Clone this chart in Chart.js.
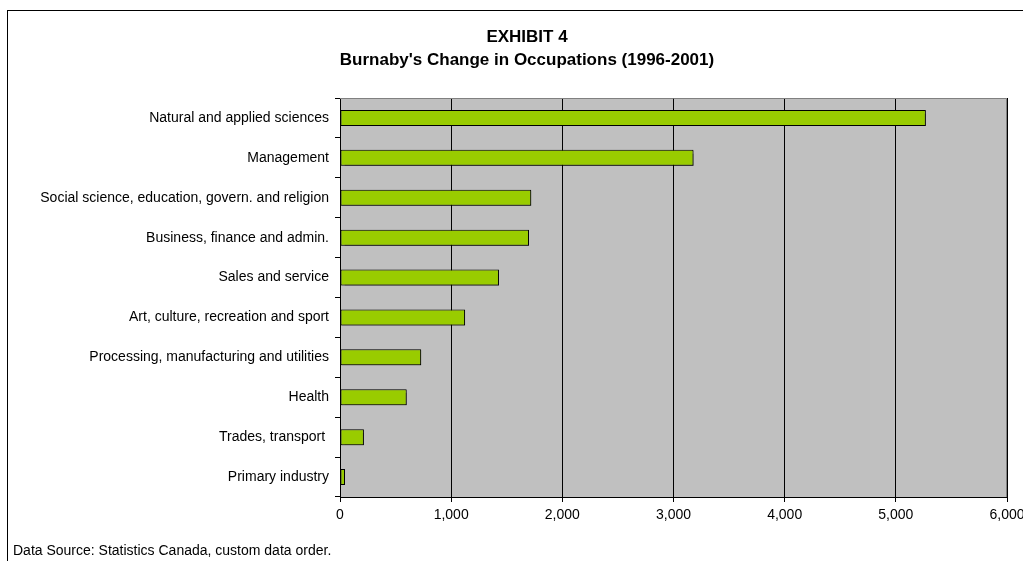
<!DOCTYPE html>
<html><head><meta charset="utf-8">
<script src="https://cdn.jsdelivr.net/npm/chart.js@4"></script>
<style>html,body{margin:0;padding:0;background:#fff;}#wrap{width:1023px;height:561px;position:relative;}</style>
</head><body><div id="wrap"><canvas id="c" width="1023" height="561"></canvas></div>
<script>
const categories = ["Natural and applied sciences","Management","Social science, education, govern. and religion","Business, finance and admin.","Sales and service","Art, culture, recreation and sport","Processing, manufacturing and utilities","Health","Trades, transport ","Primary industry"];
const changeValues = [5270, 3180, 1720, 1700, 1430, 1125, 730, 600, 215, 45];
const xTickStep = 1000;
const xMax = 6000;
const titleLines = ["EXHIBIT 4", "Burnaby's Change in Occupations (1996-2001)"];
const sourceText = "Data Source: Statistics Canada, custom data order.";

const FONT = "'Liberation Sans', Arial, sans-serif";

const decor = {
  id: 'decor',
  beforeDraw(chart) {
    const ctx = chart.ctx, a = chart.chartArea;
    ctx.save();
    ctx.fillStyle = '#fff';
    ctx.fillRect(0, 0, chart.width, chart.height);
    ctx.fillStyle = '#C0C0C0';
    ctx.fillRect(a.left, a.top, a.right - a.left, a.bottom - a.top);
    ctx.restore();
  },
  beforeDatasetsDraw(chart) {
    const ctx = chart.ctx;
    ctx.save();
    ctx.shadowColor = 'rgba(0,0,0,0.45)';
    ctx.shadowOffsetX = 1;
    ctx.shadowOffsetY = 1;
    ctx.shadowBlur = 1;
  },
  afterDatasetsDraw(chart) {
    chart.ctx.restore();
  },
  afterDraw(chart) {
    const ctx = chart.ctx, a = chart.chartArea;
    ctx.save();
    ctx.strokeStyle = '#000';
    ctx.lineWidth = 1;
    ctx.strokeRect(7.5, 10.5, 1100, 600);
    ctx.strokeStyle = '#808080';
    ctx.beginPath();
    ctx.moveTo(a.left, a.top + 0.5); ctx.lineTo(a.right - 0.5, a.top + 0.5); ctx.lineTo(a.right - 0.5, a.bottom);
    ctx.stroke();
    ctx.fillStyle = '#000';
    ctx.textAlign = 'center';
    ctx.textBaseline = 'middle';
    ctx.font = 'bold 17px ' + FONT;
    ctx.fillText(titleLines[0], 527, 37);
    ctx.fillText(titleLines[1], 527, 60);
    ctx.font = '14px ' + FONT;
    ctx.textAlign = 'left';
    ctx.fillText(sourceText, 13, 551);
    ctx.restore();
  }
};

new Chart(document.getElementById('c'), {
  type: 'bar',
  data: {
    labels: categories,
    datasets: [{
      data: changeValues,
      backgroundColor: '#99CC00',
      borderColor: '#000',
      borderWidth: 1,
      borderSkipped: false,
      barPercentage: 0.4,
      categoryPercentage: 1.0
    }]
  },
  options: {
    indexAxis: 'y',
    responsive: false,
    animation: false,
    layout: { padding: { top: 98, right: 16, bottom: 34, left: 0 } },
    plugins: { legend: { display: false }, title: { display: false }, tooltip: { enabled: false } },
    scales: {
      x: {
        min: 0, max: xMax,
        ticks: { stepSize: xTickStep, color: '#000', font: { family: FONT, size: 14 }, padding: 5,
          maxRotation: 0, callback: v => v.toLocaleString('en-US') },
        grid: { color: '#000', lineWidth: 1, drawTicks: true, tickLength: 5, tickColor: '#000' },
        border: { display: true, color: '#000' },
        afterFit(s) { s.height = 30; s.paddingRight = 0; s.paddingLeft = 0; }
      },
      y: {
        ticks: { color: '#000', font: { family: FONT, size: 14 }, padding: 6, autoSkip: false },
        grid: { offset: true, drawOnChartArea: false, drawTicks: true, tickLength: 5, color: '#000' },
        border: { display: true, color: '#000' },
        afterFit(s) { s.width = 340; }
      }
    }
  },
  plugins: [decor]
});
</script></body></html>
